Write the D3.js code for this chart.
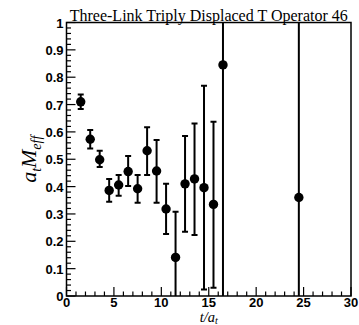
<!DOCTYPE html>
<html>
<head>
<meta charset="utf-8">
<script src="https://cdn.jsdelivr.net/npm/d3@7"></script>
<style>
  body { margin: 0; background: #fff; }
</style>
</head>
<body>
<div id="chart"></div>
<script>
// effective mass points (t/a_t, value, lower, upper)
var tVals  = [1.5, 2.5, 3.5, 4.5, 5.5, 6.5, 7.5, 8.5, 9.5, 10.5, 11.5, 12.5, 13.5, 14.5, 15.5, 16.5, 24.5];
var mVals  = [0.710, 0.573, 0.498, 0.386, 0.406, 0.455, 0.392, 0.531, 0.457, 0.318, 0.141, 0.410, 0.428, 0.396, 0.335, 0.845, 0.360];
var loVals = [0.684, 0.539, 0.472, 0.345, 0.367, 0.402, 0.341, 0.442, 0.341, 0.227, -0.05, 0.235, 0.223, 0.024, 0.030, -0.5, -0.5];
var hiVals = [0.737, 0.607, 0.531, 0.428, 0.442, 0.512, 0.442, 0.617, 0.570, 0.410, 0.308, 0.585, 0.631, 0.769, 0.637, 1.5, 1.5];
var xTicks = [0, 5, 10, 15, 20, 25, 30];
var yTicks = [0, 0.1, 0.2, 0.3, 0.4, 0.5, 0.6, 0.7, 0.8, 0.9, 1];
var title = "Three-Link Triply Displaced T Operator 46";

var W = 359, H = 325;
var m = {left: 66.5, right: 8, top: 22.5, bottom: 29};
var iw = W - m.left - m.right, ih = H - m.top - m.bottom;

var svg = d3.select("#chart").append("svg")
  .attr("width", W).attr("height", H);

var x = d3.scaleLinear().domain([0, 30]).range([0, iw]);
var y = d3.scaleLinear().domain([0, 1]).range([ih, 0]);

var g = svg.append("g").attr("transform", "translate(" + m.left + "," + m.top + ")");

g.append("clipPath").attr("id", "clip")
  .append("rect").attr("width", iw).attr("height", ih);

// minor ticks
var xMinor = d3.range(0, 31, 1).filter(function(d){ return d % 5 != 0; });
var yMinor = d3.range(0, 51, 1).map(function(d){ return d / 50; }).filter(function(d, i){ return i % 5 != 0; });

g.selectAll(".xminor").data(xMinor).enter().append("line")
  .attr("x1", x).attr("x2", x)
  .attr("y1", ih).attr("y2", ih - 4.5)
  .style("stroke", "#000").style("stroke-width", 1.2);
g.selectAll(".yminor").data(yMinor).enter().append("line")
  .attr("y1", y).attr("y2", y)
  .attr("x1", 0).attr("x2", 4.5)
  .style("stroke", "#000").style("stroke-width", 1.2);

// major ticks
g.selectAll(".xmajor").data(xTicks).enter().append("line")
  .attr("x1", x).attr("x2", x)
  .attr("y1", ih).attr("y2", ih - 9)
  .style("stroke", "#000").style("stroke-width", 1.2);
g.selectAll(".ymajor").data(yTicks).enter().append("line")
  .attr("y1", y).attr("y2", y)
  .attr("x1", 0).attr("x2", 9)
  .style("stroke", "#000").style("stroke-width", 1.2);

// tick labels
g.selectAll(".xlab").data(xTicks).enter().append("text")
  .attr("x", x).attr("y", ih + 11)
  .attr("text-anchor", "middle")
  .style("font-family", "Liberation Sans, Arial, sans-serif")
  .style("font-weight", "bold").style("font-size", "13px")
  .text(function(d){ return d; });
g.selectAll(".ylab").data(yTicks).enter().append("text")
  .attr("x", -3).attr("y", function(d){ return y(d) + 5; })
  .attr("text-anchor", "end")
  .style("font-family", "Liberation Sans, Arial, sans-serif")
  .style("font-weight", "bold").style("font-size", "13px")
  .text(function(d){ return d; });

// frame
g.append("rect").attr("width", iw).attr("height", ih)
  .style("fill", "none").style("stroke", "#000").style("stroke-width", 1.5);

// error bars
var data = tVals.map(function(t, i){ return {t: t, v: mVals[i], lo: loVals[i], hi: hiVals[i]}; });
var pts = g.append("g").attr("clip-path", "url(#clip)");

pts.selectAll(".bar").data(data).enter().append("line")
  .attr("x1", function(d){ return x(d.t); }).attr("x2", function(d){ return x(d.t); })
  .attr("y1", function(d){ return y(d.lo); }).attr("y2", function(d){ return y(d.hi); })
  .style("stroke", "#000").style("stroke-width", 2);
pts.selectAll(".capl").data(data).enter().append("line")
  .attr("x1", function(d){ return x(d.t) - 3; }).attr("x2", function(d){ return x(d.t) + 3; })
  .attr("y1", function(d){ return y(d.lo); }).attr("y2", function(d){ return y(d.lo); })
  .style("stroke", "#000").style("stroke-width", 2);
pts.selectAll(".caph").data(data).enter().append("line")
  .attr("x1", function(d){ return x(d.t) - 3; }).attr("x2", function(d){ return x(d.t) + 3; })
  .attr("y1", function(d){ return y(d.hi); }).attr("y2", function(d){ return y(d.hi); })
  .style("stroke", "#000").style("stroke-width", 2);
pts.selectAll(".dot").data(data).enter().append("circle")
  .attr("cx", function(d){ return x(d.t); })
  .attr("cy", function(d){ return y(d.v); })
  .attr("r", 4.7).style("fill", "#000");

// title
svg.append("text")
  .attr("x", m.left + iw / 2).attr("y", m.top - 2)
  .attr("text-anchor", "middle")
  .style("font-family", "Liberation Serif, Times New Roman, serif")
  .style("font-size", "16px")
  .text(title);

// axis titles
var xt = svg.append("text")
  .attr("x", m.left + iw / 2).attr("y", 322)
  .attr("text-anchor", "middle")
  .style("font-family", "Liberation Serif, Times New Roman, serif")
  .style("font-style", "italic").style("font-size", "14.5px");
xt.append("tspan").text("t/a");
xt.append("tspan").attr("dy", 2).style("font-size", "10px").text("t");

var yt = svg.append("text")
  .attr("transform", "translate(36," + (m.top + ih / 2) + ") rotate(-90)")
  .attr("text-anchor", "middle")
  .style("font-family", "Liberation Serif, Times New Roman, serif")
  .style("font-style", "italic").style("font-size", "22px");
yt.append("tspan").text("a");
yt.append("tspan").attr("dy", 5).style("font-size", "14px").text("t");
yt.append("tspan").attr("dy", -5).text("M");
yt.append("tspan").attr("dy", 5).style("font-size", "14px").text("eff");
</script>
</body>
</html>
